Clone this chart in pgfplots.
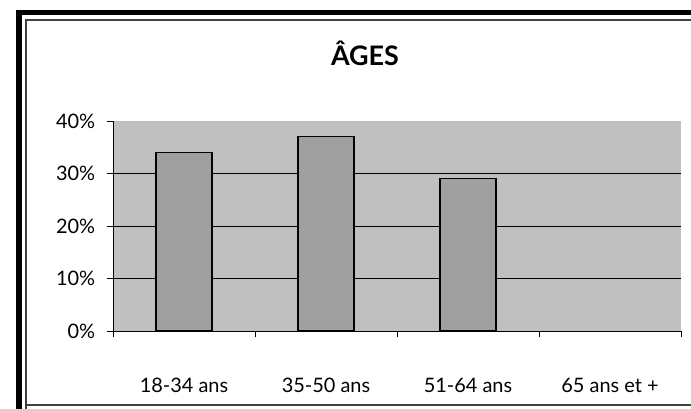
\documentclass[border=0pt]{standalone}
\usepackage{fontspec}
\setmainfont{Lato}
\usepackage{pgfplots}
\pgfplotsset{compat=1.18}
\definecolor{plotbg}{HTML}{C0C0C0}
\definecolor{barfill}{HTML}{A0A0A0}
\begin{document}
\fontsize{20}{24}\selectfont
\begin{tikzpicture}[x=1bp,y=1bp]
\useasboundingbox (0,0) rectangle (691,408);
% cadre double, coupé à droite et en bas
\begin{scope}
  \clip (0,0) rectangle (691,408);
  \draw[line width=5.5bp] (19,-20) -- (19,395.5) -- (720,395.5);
  \draw[line width=2bp, black!75] (26,-5) -- (26,388) -- (720,388);
  \draw[line width=2bp, black!75] (26,3) -- (720,3);
\end{scope}
\node[font=\fontsize{27}{30}\selectfont\bfseries] at (365,355) {ÂGES};
\begin{axis}[
    at={(113bp,77bp)}, anchor=south west,
    scale only axis, width=568bp, height=210bp,
    xmin=-0.5, xmax=3.5, ymin=0, ymax=40,
    axis x line*=bottom, axis y line*=left,
    axis line style={black, line width=0.9bp},
    axis background/.style={fill=plotbg},
    xtick={-0.5,0.5,1.5,2.5,3.5},
    x tick label as interval,
    xticklabels={18-34 ans,35-50 ans,51-64 ans,65 ans et +},
    ytick={0,10,20,30},
    yticklabels={0\%,10\%,20\%,30\%},
    extra y ticks={40},
    extra y tick labels={40\%},
    extra y tick style={grid=none},
    ymajorgrids,
    grid style={black, line width=0.8bp},
    tick align=outside,
    major tick length=6bp,
    tick style={black, line width=0.8bp},
    tick label style={font=\fontsize{20}{24}\selectfont},
    xticklabel style={yshift=-34bp},
    yticklabel style={xshift=-5bp},
]
% 65 ans et + : 0 %, aucune barre visible
\addplot[ybar, bar width=56bp, fill=barfill, draw=black, line width=1.2bp]
    coordinates {(0,34) (1,37) (2,29)};
\end{axis}
\end{tikzpicture}
\end{document}
